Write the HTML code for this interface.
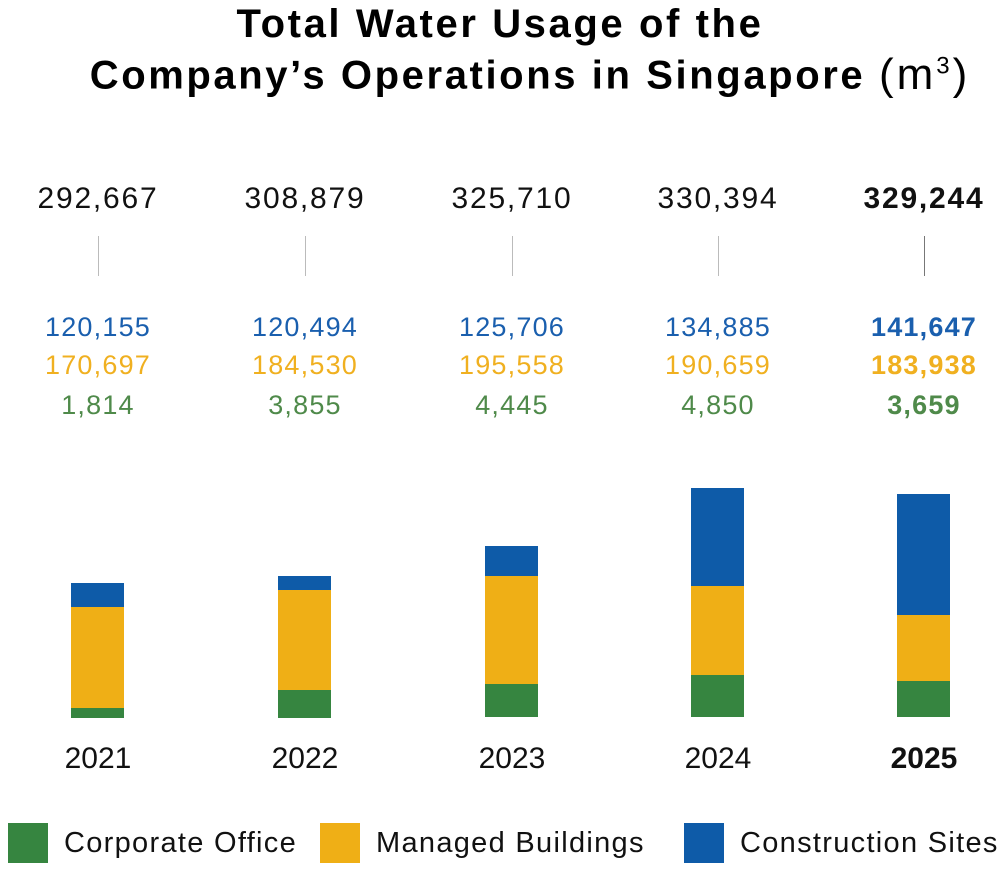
<!DOCTYPE html>
<html><head><style>
body{margin:0;width:1000px;height:873px;background:#fff;font-family:"Liberation Sans",sans-serif;position:relative;overflow:hidden}
.t{position:absolute;white-space:nowrap;text-align:center}
.title{left:0;width:1000px;font-weight:bold;font-size:40px;letter-spacing:2.6px;color:#000;line-height:44px}
.tot{font-size:30px;letter-spacing:1.8px;color:#111;width:180px;top:182px}
.vl{position:absolute;width:1px;height:40px;background:#bbb;top:236px}
.n{font-size:27px;letter-spacing:1.2px;width:180px}
.b{color:#1a5fae;top:312px}.y{color:#f0b020;top:350px}.g{color:#4f8a4a;top:390px}
.yr{font-size:30px;width:180px;top:742px;color:#111}
.s{position:absolute;width:53px}
.cb{background:#0e5ba8}.cy{background:#efaf16}.cg{background:#368540}
.lg{position:absolute;top:823px;width:40px;height:40px}
.lt{position:absolute;top:827px;font-size:29px;letter-spacing:1.3px;color:#111}
</style></head><body>
<div class="t title" style="top:2px">Total Water Usage of the</div>
<div class="t title" style="top:44px;left:30px">Company’s Operations in Singapore <span style="font-weight:normal;font-size:44px;letter-spacing:3px">(m<sup style="font-size:24px">3</sup>)</span></div>

<div class="t tot" style="left:8px">292,667</div>
<div class="t tot" style="left:215px">308,879</div>
<div class="t tot" style="left:422px">325,710</div>
<div class="t tot" style="left:628px">330,394</div>
<div class="t tot" style="left:834px;font-weight:bold">329,244</div>
<div class="vl" style="left:98px"></div><div class="vl" style="left:305px"></div><div class="vl" style="left:512px"></div><div class="vl" style="left:718px"></div><div class="vl" style="left:924px;background:#777"></div>

<div class="t n b" style="left:8px">120,155</div><div class="t n y" style="left:8px">170,697</div><div class="t n g" style="left:8px">1,814</div>
<div class="t n b" style="left:215px">120,494</div><div class="t n y" style="left:215px">184,530</div><div class="t n g" style="left:215px">3,855</div>
<div class="t n b" style="left:422px">125,706</div><div class="t n y" style="left:422px">195,558</div><div class="t n g" style="left:422px">4,445</div>
<div class="t n b" style="left:628px">134,885</div><div class="t n y" style="left:628px">190,659</div><div class="t n g" style="left:628px">4,850</div>
<div class="t n b" style="left:834px;font-weight:bold">141,647</div><div class="t n y" style="left:834px;font-weight:bold">183,938</div><div class="t n g" style="left:834px;font-weight:bold">3,659</div>

<div class="s cb" style="left:71px;top:583px;height:24px"></div><div class="s cy" style="left:71px;top:607px;height:101px"></div><div class="s cg" style="left:71px;top:708px;height:10px"></div>
<div class="s cb" style="left:278px;top:576px;height:14px"></div><div class="s cy" style="left:278px;top:590px;height:100px"></div><div class="s cg" style="left:278px;top:690px;height:28px"></div>
<div class="s cb" style="left:485px;top:546px;height:30px"></div><div class="s cy" style="left:485px;top:576px;height:108px"></div><div class="s cg" style="left:485px;top:684px;height:33px"></div>
<div class="s cb" style="left:691px;top:488px;height:98px"></div><div class="s cy" style="left:691px;top:586px;height:89px"></div><div class="s cg" style="left:691px;top:675px;height:42px"></div>
<div class="s cb" style="left:897px;top:494px;height:121px"></div><div class="s cy" style="left:897px;top:615px;height:66px"></div><div class="s cg" style="left:897px;top:681px;height:36px"></div>

<div class="t yr" style="left:8px">2021</div><div class="t yr" style="left:215px">2022</div><div class="t yr" style="left:422px">2023</div><div class="t yr" style="left:628px">2024</div><div class="t yr" style="left:834px;font-weight:bold">2025</div>

<div class="lg cg" style="left:8px"></div><div class="lt" style="left:64px">Corporate Office</div>
<div class="lg cy" style="left:320px"></div><div class="lt" style="left:376px">Managed Buildings</div>
<div class="lg cb" style="left:684px"></div><div class="lt" style="left:740px">Construction Sites</div>
</body></html>
